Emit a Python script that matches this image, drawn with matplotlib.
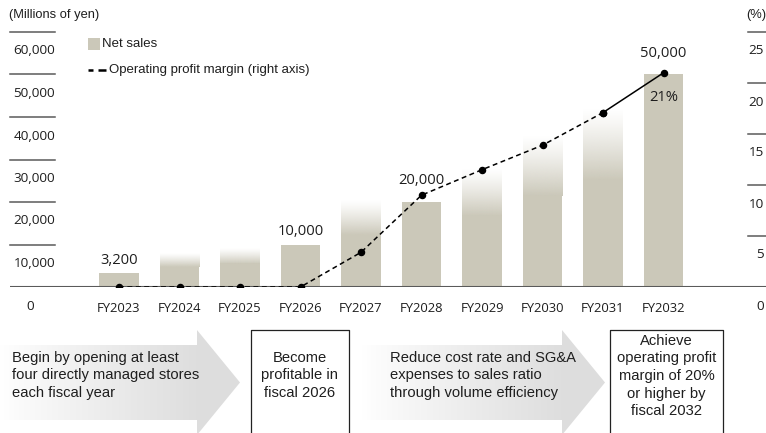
import matplotlib
matplotlib.use('Agg')
import matplotlib.pyplot as plt
import numpy as np
from matplotlib.transforms import blended_transform_factory, ScaledTranslation
from matplotlib.patches import Polygon, Rectangle
from matplotlib.colors import to_rgb

# ---------------- data ----------------
years = ['FY2023', 'FY2024', 'FY2025', 'FY2026', 'FY2027',
         'FY2028', 'FY2029', 'FY2030', 'FY2031', 'FY2032']
net_sales = [3200, 8000, 9200, 10000, 20500, 20000, 28000, 35500, 42000, 50000]
op_margin = [0, 0, 0, 0, 3.4, 9.0, 11.5, 13.9, 17.1, 21.0]
labeled_bars = ['FY2023', 'FY2026', 'FY2028', 'FY2032']
margin_label = '21%'
left_ticks = [10000, 20000, 30000, 40000, 50000, 60000]
right_ticks = [5, 10, 15, 20, 25]
legend_labels = ['Net sales', 'Operating profit margin (right axis)']
left_unit = '(Millions of yen)'
right_unit = '(%)'
steps = ['Begin by opening at least\nfour directly managed stores\neach fiscal year',
         'Become\nprofitable in\nfiscal 2026',
         'Reduce cost rate and SG&A\nexpenses to sales ratio\nthrough volume efficiency',
         'Achieve\noperating profit\nmargin of 20%\nor higher by\nfiscal 2032']

# ---------------- style ----------------
faded = [False, True, True, False, True, False, True, True, True, False]
bar_color = '#CBC8B9'
tick_color = '#5a5a5a'
txt_color = '#1e1e1e'
num_font = 'Open Sans'
txt_font = 'Liberation Sans'

W, H = 766, 433
fig = plt.figure(figsize=(W / 100, H / 100), dpi=100)

ov = fig.add_axes([0, 0, 1, 1], zorder=0)
ov.set_xlim(0, W)
ov.set_ylim(H, 0)
ov.axis('off')

# main axes: pixel x 10..766, y 287 (0) .. 32 (60000)
ax = fig.add_axes([10 / W, (H - 287) / H, 756 / W, 255 / H], zorder=1)
ax.patch.set_visible(False)
x = np.arange(len(years))
x0 = -109 / 60.5
ax.set_xlim(x0, x0 + 756 / 60.5)
ax.set_ylim(0, 60000)
for s in ax.spines.values():
    s.set_visible(False)
ax.set_yticks([])
ax.set_xticks(x)
ax.set_xticklabels(years, fontsize=9.4, family=num_font, color=txt_color)
ax.tick_params(axis='x', length=0, pad=10.5)

ax2 = ax.twinx()
ax2.set_zorder(2)
ax2.patch.set_visible(False)
ax2.set_ylim(0, 25)
for s in ax2.spines.values():
    s.set_visible(False)
ax2.set_yticks([])

# bars
bw = 0.645
rgb = to_rgb(bar_color)
for i, (v, f) in enumerate(zip(net_sales, faded)):
    if f:
        frac = 0.4
        solid = v * (1 - frac)
        ax.bar(i, solid * 1.002, width=bw, color=bar_color, lw=0, zorder=2)
        n = 128
        img = np.zeros((n, 1, 4))
        img[..., 0], img[..., 1], img[..., 2] = rgb
        img[:, 0, 3] = np.linspace(1, 0, n) ** 1.2
        ax.imshow(img, extent=(i - bw / 2, i + bw / 2, solid, v), origin='lower',
                  aspect='auto', interpolation='bilinear', zorder=2)
    else:
        ax.bar(i, v, width=bw, color=bar_color, lw=0, zorder=2)
ax.set_xlim(x0, x0 + 756 / 60.5)
ax.set_ylim(0, 60000)

ax.axhline(0, color=tick_color, lw=1.5, zorder=5)

# left ticks
tl = blended_transform_factory(ov.transData, ax.transData)
down = ScaledTranslation(0, -19 / 100, fig.dpi_scale_trans)
for v in left_ticks:
    ax.plot([10, 55], [v, v], transform=tl, color=tick_color, lw=1.1, clip_on=False)
    ax.text(55, v, f'{v:,}', transform=tl + down, ha='right', va='center',
            fontsize=9.7, family=num_font, color=txt_color)
ax.text(30, 0, '0', transform=tl + ScaledTranslation(0, -20 / 100, fig.dpi_scale_trans),
        ha='center', va='center', fontsize=9.7, family=num_font, color=txt_color)

# right ticks
tr = blended_transform_factory(ov.transData, ax2.transData)
for v in right_ticks:
    ax2.plot([748, 766], [v, v], transform=tr, color=tick_color, lw=1.1, clip_on=False)
    ax2.text(764, v, f'{v}', transform=tr + down, ha='right', va='center',
             fontsize=9.7, family=num_font, color=txt_color)
ax2.text(760, 0, '0', transform=tr + ScaledTranslation(0, -20 / 100, fig.dpi_scale_trans),
         ha='center', va='center', fontsize=9.7, family=num_font, color=txt_color)

# bar value labels
for i, (yr, v) in enumerate(zip(years, net_sales)):
    if yr in labeled_bars:
        dy = 13 if v < 15000 else 21
        ax.annotate(f'{v:,}', (i, v), xytext=(0, dy * 0.72), textcoords='offset points',
                    ha='center', va='center', fontsize=10.6, family=num_font,
                    color=txt_color, zorder=6)

# margin line
n = len(years)
ax2.plot(x[:n - 1], op_margin[:n - 1], color='black', lw=1.1, dashes=(3.2, 2.3),
         marker='o', markersize=4.4, zorder=7)
ax2.plot(x[n - 2:], op_margin[n - 2:], color='black', lw=1.1,
         marker='o', markersize=4.4, zorder=7)
ax2.annotate(margin_label, (x[-1], op_margin[-1]), xytext=(0, -25 * 0.72),
             textcoords='offset points', ha='center', va='center', fontsize=10.6,
             family=num_font, color=txt_color, zorder=8)

# units
ov.text(9, 15, left_unit, ha='left', va='center', fontsize=9.3, family=txt_font, color=txt_color)
ov.text(766, 15, right_unit, ha='right', va='center', fontsize=9.3, family=txt_font, color=txt_color)

# legend
ov.add_patch(Rectangle((88, 38), 12, 12, facecolor=bar_color, edgecolor='none'))
ov.text(102, 44, legend_labels[0], ha='left', va='center', fontsize=9.5, family=txt_font, color=txt_color)
ov.plot([88, 93], [70, 70], color='black', lw=1.8, solid_capstyle='butt')
ov.plot([98, 106], [70, 70], color='black', lw=1.8, solid_capstyle='butt')
ov.text(109, 70, legend_labels[1], ha='left', va='center', fontsize=9.5, family=txt_font, color=txt_color)

# bottom arrows with gradient
def grad_arrow(xs, xb, xt, ys=(345, 420), yh=(330, 435)):
    pts = [(xs, ys[0]), (xb, ys[0]), (xb, yh[0]), (xt, (yh[0] + yh[1]) / 2),
           (xb, yh[1]), (xb, ys[1]), (xs, ys[1])]
    poly = Polygon(pts, closed=True, facecolor='none', edgecolor='none')
    ov.add_patch(poly)
    m = 256
    t = np.linspace(0, 1, m)
    g = 1 - (1 - 0.87) * np.clip(t * (xt - xs) / (xb - xs), 0, 1) ** 0.9
    img = np.zeros((1, m, 3))
    img[0, :, 0] = g
    img[0, :, 1] = g
    img[0, :, 2] = g
    im = ov.imshow(img, extent=(xs, xt, yh[1], yh[0]), aspect='auto',
                   interpolation='bilinear', zorder=0)
    im.set_clip_path(poly)

grad_arrow(0, 197, 240)
grad_arrow(362, 562, 605)
ov.set_xlim(0, W)
ov.set_ylim(H, 0)

def open_box(xl, xr):
    ov.plot([xl, xl, xr, xr], [436, 329.5, 329.5, 436], color='#222222', lw=0.9)

open_box(250.5, 348.5)
open_box(610, 723)

fs = 10.6
ls = 1.32
ov.text(12, 375.5, steps[0], ha='left', va='center', fontsize=fs, family=txt_font,
        color=txt_color, linespacing=ls)
ov.text(299.5, 375.5, steps[1], ha='center', va='center', fontsize=fs, family=txt_font,
        color=txt_color, linespacing=ls, multialignment='center')
ov.text(390, 375.5, steps[2], ha='left', va='center', fontsize=fs, family=txt_font,
        color=txt_color, linespacing=ls)
ov.text(666.5, 376, steps[3], ha='center', va='center', fontsize=fs, family=txt_font,
        color=txt_color, linespacing=ls, multialignment='center')

fig.savefig('out.png', dpi=100)
